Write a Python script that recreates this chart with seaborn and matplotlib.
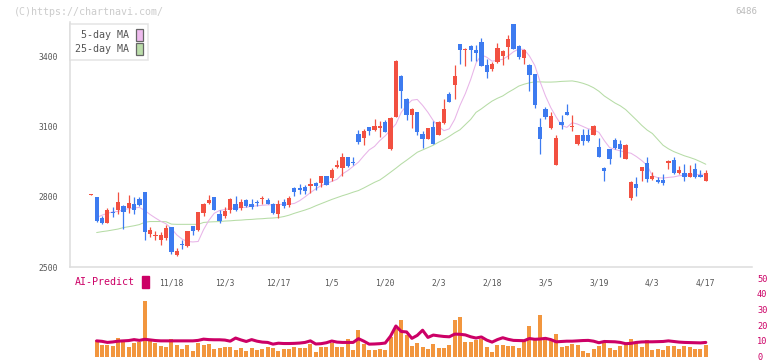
import numpy as np
import pandas as pd
import seaborn as sns
import matplotlib
matplotlib.use("Agg")
import matplotlib.pyplot as plt
from matplotlib.patches import Patch

# daily candles (yen)
opens = [2808, 2798, 2709, 2689, 2736, 2743, 2760, 2754, 2771, 2790,
         2820, 2642, 2633, 2615, 2625, 2670, 2552, 2601, 2589, 2675,
         2658, 2731, 2774, 2798, 2729, 2717, 2743, 2771, 2751, 2788,
         2769, 2779, 2791, 2788, 2769, 2726, 2777, 2766, 2837, 2838,
         2842, 2848, 2860, 2860, 2888, 2880, 2926, 2924, 2969, 2947,
         3066, 3051, 3096, 3087, 3095, 3121, 3006, 3141, 3315, 3217,
         3150, 3161, 3067, 3047, 3097, 3064, 3113, 3238, 3278, 3451,
         3427, 3443, 3426, 3460, 3362, 3346, 3373, 3400, 3440, 3537,
         3443, 3390, 3363, 3323, 3097, 3175, 3093, 2936, 3118, 3161,
         3096, 3025, 3062, 3062, 3064, 3012, 2925, 3003, 3042, 3025,
         2962, 2797, 2854, 2911, 2943, 2875, 2871, 2871, 2945, 2958,
         2900, 2901, 2885, 2918, 2892, 2868]
highs = [2813, 2800, 2720, 2754, 2755, 2820, 2765, 2808, 2798, 2798,
         2820, 2672, 2653, 2650, 2679, 2670, 2581, 2615, 2655, 2678,
         2736, 2774, 2807, 2800, 2743, 2757, 2795, 2803, 2791, 2790,
         2791, 2786, 2803, 2797, 2772, 2786, 2791, 2803, 2840, 2854,
         2851, 2879, 2865, 2891, 2890, 2922, 2956, 2985, 2970, 2970,
         3087, 3090, 3097, 3130, 3122, 3127, 3140, 3382, 3318, 3220,
         3178, 3163, 3079, 3095, 3122, 3122, 3218, 3248, 3363, 3452,
         3433, 3448, 3448, 3477, 3386, 3373, 3455, 3425, 3491, 3538,
         3448, 3429, 3366, 3324, 3135, 3181, 3161, 3064, 3150, 3195,
         3147, 3065, 3089, 3089, 3106, 3050, 2927, 3005, 3051, 3042,
         3025, 2868, 2885, 2928, 2968, 2904, 2883, 2897, 2955, 2968,
         2931, 2941, 2935, 2943, 2914, 2914]
lows = [2808, 2695, 2683, 2687, 2715, 2729, 2665, 2733, 2725, 2762,
        2615, 2627, 2618, 2597, 2618, 2555, 2550, 2580, 2587, 2636,
        2656, 2717, 2769, 2742, 2689, 2708, 2731, 2741, 2743, 2755,
        2750, 2760, 2771, 2769, 2725, 2711, 2754, 2757, 2803, 2814,
        2814, 2817, 2828, 2842, 2850, 2868, 2924, 2888, 2928, 2935,
        3025, 3020, 3063, 3081, 3056, 3075, 3000, 3139, 3178, 3128,
        3093, 3064, 3007, 3045, 3024, 3063, 3111, 3203, 3218, 3366,
        3359, 3377, 3380, 3357, 3306, 3335, 3370, 3360, 3389, 3428,
        3386, 3367, 3249, 3178, 2982, 3130, 3091, 2935, 3089, 3148,
        3079, 3019, 3022, 3034, 3062, 2970, 2868, 2942, 3005, 2970,
        2960, 2788, 2803, 2867, 2862, 2873, 2860, 2851, 2917, 2898,
        2898, 2868, 2884, 2881, 2883, 2866]
closes = [2813, 2697, 2687, 2743, 2730, 2777, 2734, 2773, 2743, 2766,
          2650, 2658, 2637, 2636, 2668, 2565, 2569, 2594, 2653, 2654,
          2734, 2769, 2786, 2744, 2697, 2740, 2793, 2743, 2777, 2760,
          2757, 2772, 2797, 2771, 2731, 2771, 2760, 2794, 2820, 2831,
          2825, 2853, 2848, 2888, 2851, 2914, 2934, 2968, 2931, 2943,
          3035, 3080, 3081, 3104, 3098, 3076, 3138, 3379, 3252, 3150,
          3175, 3076, 3047, 3093, 3026, 3117, 3173, 3205, 3315, 3426,
          3431, 3426, 3413, 3359, 3333, 3366, 3434, 3420, 3473, 3430,
          3396, 3427, 3320, 3190, 3047, 3141, 3146, 3050, 3107, 3150,
          3098, 3062, 3040, 3036, 3104, 2972, 2911, 2961, 3007, 3004,
          3022, 2864, 2838, 2926, 2877, 2888, 2862, 2860, 2952, 2900,
          2914, 2885, 2902, 2883, 2885, 2901]

ma5 = [None, 2712, 2722, 2730, 2736, 2738, 2745, 2750, 2753, 2755,
       2742, 2725, 2710, 2696, 2685, 2665, 2638, 2620, 2610, 2608,
       2610, 2660, 2700, 2730, 2742, 2746, 2750, 2752, 2754, 2756,
       2760, 2762, 2764, 2766, 2766, 2768, 2768, 2769, 2772, 2784,
       2800, 2818, 2834, 2848, 2857, 2866, 2875, 2898, 2912, 2930,
       2948, 2975, 3000, 3015, 3040, 3060, 3085, 3110, 3160, 3190,
       3212, 3215, 3190, 3160, 3125, 3100, 3082, 3090, 3130, 3190,
       3240, 3300, 3370, 3405, 3395, 3378, 3382, 3386, 3400, 3418,
       3430, 3428, 3400, 3360, 3290, 3230, 3180, 3140, 3105, 3096,
       3116, 3110, 3100, 3090, 3086, 3075, 3040, 3010, 3002, 2996,
       2990, 2986, 2972, 2955, 2935, 2890, 2882, 2880, 2883, 2885,
       2890, 2892, 2893, 2894, 2896, 2897]
ma25 = [None, 2648, 2652, 2655, 2659, 2663, 2669, 2673, 2677, 2682,
        2692, 2695, 2695, 2695, 2694, 2684, 2683, 2683, 2683, 2683,
        2683, 2691, 2693, 2694, 2695, 2697, 2698, 2700, 2701, 2703,
        2704, 2706, 2707, 2709, 2710, 2712, 2716, 2722, 2730, 2737,
        2744, 2752, 2762, 2771, 2780, 2789, 2797, 2805, 2812, 2820,
        2827, 2838, 2850, 2862, 2872, 2888, 2905, 2922, 2940, 2956,
        2973, 2990, 3000, 3010, 3020, 3033, 3044, 3058, 3073, 3086,
        3108, 3130, 3160, 3175, 3192, 3208, 3220, 3230, 3245, 3258,
        3272, 3280, 3286, 3290, 3290, 3289, 3289, 3290, 3292, 3293,
        3294, 3290, 3284, 3276, 3265, 3250, 3230, 3215, 3200, 3188,
        3172, 3150, 3128, 3105, 3085, 3070, 3045, 3020, 3005, 2993,
        2984, 2975, 2968, 2960, 2950, 2939]

# lower panel
volume = [0, 10.5, 7.2, 7.5, 6.8, 11.8, 9.3, 6.2, 8.8, 9.0,
          35.7, 9.8, 8.8, 6.4, 6.2, 11.1, 7.4, 4.9, 7.4, 3.6,
          8.9, 7.4, 8.0, 4.9, 5.5, 6.1, 6.1, 4.2, 5.5, 3.6,
          5.5, 4.2, 4.9, 6.1, 5.5, 3.6, 4.9, 4.9, 6.0, 5.5,
          5.5, 8.0, 3.0, 6.1, 5.8, 8.6, 6.1, 6.1, 11.1, 4.3,
          16.8, 8.2, 4.2, 4.2, 4.5, 4.0, 12.5, 17.5, 23.2, 14.0,
          6.6, 8.6, 6.1, 4.9, 7.7, 5.5, 5.5, 7.4, 23.2, 25.0,
          9.3, 9.3, 10.6, 11.0, 6.1, 3.0, 7.4, 7.2, 6.7, 6.5,
          5.5, 10.7, 19.3, 11.3, 26.5, 10.7, 9.9, 14.5, 6.1, 6.5,
          7.8, 7.2, 3.6, 2.3, 4.5, 6.7, 8.4, 5.5, 4.2, 6.5,
          8.0, 11.1, 8.8, 6.1, 10.5, 4.2, 4.9, 4.2, 6.7, 6.7,
          4.9, 6.7, 6.1, 4.9, 4.9, 7.4]
predict = [None, 10.0, 9.7, 9.0, 9.3, 9.8, 10.0, 10.2, 10.8, 10.3,
           11.0, 10.6, 10.2, 10.0, 10.0, 10.0, 10.0, 10.0, 10.0, 10.0,
           10.3, 11.1, 10.8, 10.7, 10.7, 10.5, 9.8, 11.8, 10.6, 9.6,
           10.8, 9.8, 9.2, 9.0, 7.9, 8.5, 8.3, 8.3, 8.4, 8.6,
           9.0, 10.0, 8.0, 8.2, 8.8, 9.9, 9.2, 9.0, 9.0, 9.0,
           11.4, 9.8, 7.9, 8.0, 8.2, 8.6, 13.0, 19.5, 16.0, 15.7,
           11.6, 13.5, 16.8, 12.2, 13.7, 13.2, 12.8, 12.6, 14.3, 14.2,
           13.8, 12.6, 11.8, 12.5, 10.5, 9.2, 10.8, 12.0, 11.0, 10.3,
           10.2, 10.1, 11.5, 11.0, 11.2, 11.6, 10.8, 9.4, 9.6, 9.8,
           9.8, 10.0, 10.2, 10.3, 9.8, 8.8, 9.6, 9.5, 9.4, 9.0,
           8.2, 8.4, 9.0, 9.3, 9.4, 9.4, 9.5, 9.6, 10.0, 9.6,
           9.2, 9.0, 8.9, 8.8, 8.7, 9.0]

date_labels = ["11/18", "12/3", "12/17", "1/5", "1/20", "2/3",
               "2/18", "3/5", "3/19", "4/3", "4/17"]
date_index = [15, 25, 35, 45, 55, 65, 75, 85, 95, 105, 115]
price_ticks = [2500, 2800, 3100, 3400]
predict_ticks = [0, 10, 20, 30, 40, 50]

RED = "#f25041"
BLUE = "#3d7bf0"
ORANGE = "#f2963e"
CRIMSON = "#cc0066"
GRID = "#dddddd"
TXT = "#555555"

df = pd.DataFrame({"idx": np.arange(len(closes)), "open": opens, "high": highs,
                   "low": lows, "close": closes,
                   "ma5": np.array(ma5, dtype=float),
                   "ma25": np.array(ma25, dtype=float),
                   "volume": volume,
                   "predict": np.array(predict, dtype=float)})
df["color"] = np.where(df["close"] >= df["open"], RED, BLUE)
df["body_lo"] = df[["open", "close"]].min(axis=1)
df["body_h"] = (df["close"] - df["open"]).abs().clip(lower=5)

sns.set_theme(style="white")
plt.rcParams["font.family"] = ["DejaVu Sans Mono"]

W, H = 772, 361
fig = plt.figure(figsize=(W / 100, H / 100), dpi=100)
ax = fig.add_axes([70 / W, 1 - 267.3 / H, 682 / W, 245.3 / H])
ax2 = fig.add_axes([70 / W, 1 - 356.5 / H, 682 / W, 78.2 / H])

x0, x1 = -3.99, 123.65

# moving averages
sns.lineplot(data=df, x="idx", y="ma25", ax=ax, color="#b6dca6", linewidth=0.75, zorder=1)
sns.lineplot(data=df, x="idx", y="ma5", ax=ax, color="#e8b4e8", linewidth=0.75, zorder=1)

# candles
ax.vlines(df["idx"], df["low"], df["high"], colors=df["color"], linewidth=0.9, zorder=2)
ax.bar(df["idx"], df["body_h"], bottom=df["body_lo"], width=0.8,
       color=df["color"], linewidth=0, zorder=3)

ax.set_xlim(x0, x1)
ax.set_ylim(2500, 3545)
ax.set_xlabel("")
ax.set_ylabel("")
for s in ["top", "right"]:
    ax.spines[s].set_visible(False)
for s in ["left", "bottom"]:
    ax.spines[s].set_color(GRID)
    ax.spines[s].set_linewidth(1.1)

ax.set_yticks(price_ticks)
ax.tick_params(axis="y", direction="inout", length=5, width=1.1, color=GRID,
               labelsize=5.8, labelcolor=TXT, pad=6)
ax.set_xticks(date_index)
ax.set_xticklabels(date_labels)
ax.tick_params(axis="x", which="major", length=0, pad=8.4, labelsize=5.8, labelcolor=TXT)
ax.set_xticks(np.linspace(x0, x1, 12), minor=True)
ax.tick_params(axis="x", which="minor", direction="inout", length=5.8, width=1.1, color=GRID)

leg = ax.legend(handles=[Patch(facecolor="#eebbee", edgecolor="#666666", linewidth=0.9, label="5-day MA"),
                         Patch(facecolor="#bbddaa", edgecolor="#666666", linewidth=0.9, label="25-day MA")],
                loc="upper left", bbox_to_anchor=(0, 1 - 2 / 245.3), borderaxespad=0,
                markerfirst=False, frameon=True, fancybox=False, edgecolor=GRID,
                fontsize=7.2, handlelength=0.65, handleheight=1.5, handletextpad=0.7,
                labelspacing=0.15, borderpad=0.5, labelcolor=TXT)
leg.get_frame().set_linewidth(1.1)

# volume + AI predict
ax2.bar(df["idx"], df["volume"], width=0.75, color=ORANGE, linewidth=0, zorder=1)
sns.lineplot(data=df, x="idx", y="predict", ax=ax2, color=CRIMSON, linewidth=2.2, zorder=3)
ax2.set_xlim(x0, x1)
ax2.set_ylim(0, 50)
ax2.set_xlabel("")
ax2.set_ylabel("")
for s in ax2.spines.values():
    s.set_visible(False)
ax2.set_xticks([])
ax2.yaxis.tick_right()
ax2.set_yticks(predict_ticks)
ax2.tick_params(axis="y", length=0, pad=3.6, labelsize=6.2, labelcolor=CRIMSON)
ax2.patch.set_alpha(0)

fig.legend(handles=[Patch(facecolor=CRIMSON, edgecolor=CRIMSON, label="AI-Predict")],
           loc="upper left", bbox_to_anchor=(75 / W, 1 - 276 / H), borderaxespad=0,
           borderpad=0, markerfirst=False, frameon=False, fontsize=7.2,
           handlelength=0.65, handleheight=1.5, handletextpad=0.7, labelcolor=CRIMSON)

fig.text(14 / W, 1 - 12 / H, "(C)https://chartnavi.com/", color="#cccccc",
         fontsize=7.2, ha="left", va="center")
fig.text(757 / W, 1 - 12 / H, "6486", color="#bbbbbb", fontsize=6.6,
         ha="right", va="center")

fig.savefig("out.png", dpi=100)
